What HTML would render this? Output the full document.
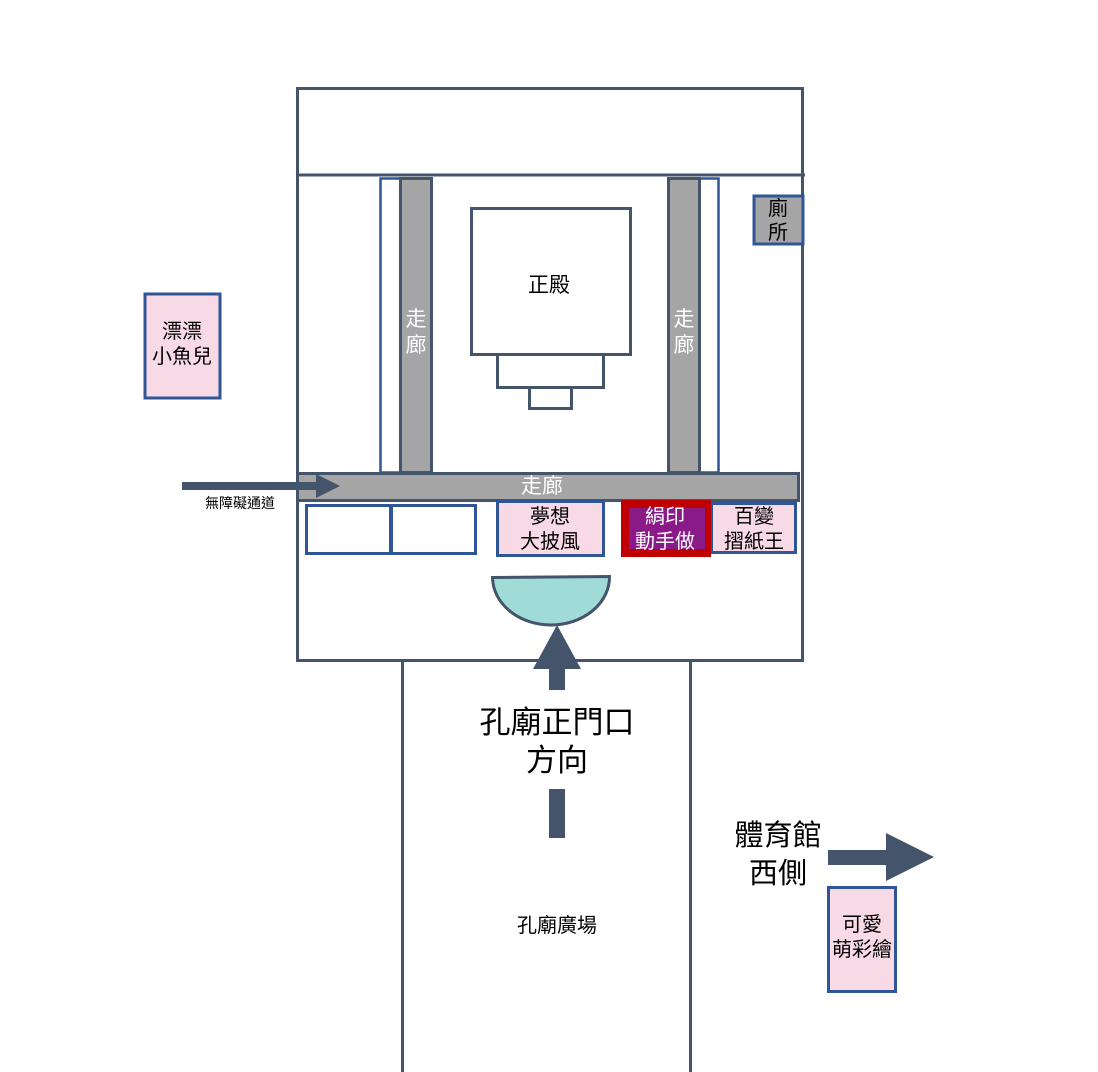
<!DOCTYPE html>
<html><head><meta charset="utf-8"><style>
html,body{margin:0;padding:0;background:#fff;}
svg{display:block;}
text{font-family:"Liberation Sans","Noto Sans CJK TC",sans-serif;}
</style></head><body>
<svg width="1098" height="1072" viewBox="0 0 1098 1072" xmlns="http://www.w3.org/2000/svg">
<g fill="none" stroke="#44546a" stroke-width="3">
<rect x="297.5" y="88.5" width="505" height="572" fill="#fff"/>
<line x1="297" y1="175" x2="805" y2="175"/>
</g>
<rect x="380.5" y="178.5" width="51" height="294" fill="#fff" stroke="#2f5597" stroke-width="2.5"/>
<rect x="400.5" y="178.5" width="31" height="294" fill="#a5a5a5" stroke="#44546a" stroke-width="3"/>
<rect x="668.5" y="178.5" width="50" height="294" fill="#fff" stroke="#2f5597" stroke-width="2.5"/>
<rect x="668.5" y="178.5" width="31" height="294" fill="#a5a5a5" stroke="#44546a" stroke-width="3"/>
<text x="416" y="326" font-size="21" fill="#fff" text-anchor="middle">走</text>
<text x="416" y="352" font-size="21" fill="#fff" text-anchor="middle">廊</text>
<text x="684" y="326" font-size="21" fill="#fff" text-anchor="middle">走</text>
<text x="684" y="352" font-size="21" fill="#fff" text-anchor="middle">廊</text>
<g fill="#fff" stroke="#44546a" stroke-width="3">
<rect x="471.5" y="208.5" width="159" height="146"/>
<rect x="497.5" y="354.5" width="106" height="33"/>
<rect x="529.5" y="387.5" width="42" height="21"/>
</g>
<text x="549" y="292" font-size="21" fill="#000" text-anchor="middle">正殿</text>
<rect x="754" y="196" width="49" height="48" fill="#a5a5a5" stroke="#2f5597" stroke-width="3"/>
<text x="778" y="215" font-size="20" fill="#000" text-anchor="middle">廁</text>
<text x="778" y="239" font-size="20" fill="#000" text-anchor="middle">所</text>
<rect x="297.5" y="473.5" width="501" height="27" fill="#a5a5a5" stroke="#44546a" stroke-width="3"/>
<text x="542" y="493" font-size="21" fill="#fff" text-anchor="middle">走廊</text>
<g stroke="#2f5597" stroke-width="3">
<rect x="306.5" y="505.5" width="84" height="48" fill="#fff"/>
<rect x="391.5" y="505.5" width="84" height="48" fill="#fff"/>
<rect x="497.5" y="501.5" width="106" height="54" fill="#f8dae6"/>
<rect x="711.5" y="503.5" width="84" height="49" fill="#f8dae6"/>
</g>
<rect x="621" y="500" width="90" height="57" fill="#c00000"/>
<rect x="629" y="508" width="76" height="41" fill="#8b1a89"/>
<text x="550" y="523" font-size="20" fill="#000" text-anchor="middle">夢想</text>
<text x="550" y="548" font-size="20" fill="#000" text-anchor="middle">大披風</text>
<text x="665" y="523" font-size="20" fill="#fff" text-anchor="middle">絹印</text>
<text x="665" y="548" font-size="20" fill="#fff" text-anchor="middle">動手做</text>
<text x="754" y="523" font-size="20" fill="#000" text-anchor="middle">百變</text>
<text x="754" y="548" font-size="20" fill="#000" text-anchor="middle">摺紙王</text>
<path d="M492.5 577.5 L609.5 576.5 A58.5 48 0 0 1 492.5 577.5 Z" fill="#a0dbd8" stroke="#44546a" stroke-width="3"/>
<rect x="402.5" y="660.5" width="288" height="420" fill="#fff" stroke="#44546a" stroke-width="3"/>
<polygon points="557,625 581,669 533,669" fill="#44546a"/>
<rect x="549" y="668" width="16" height="22" fill="#44546a"/>
<rect x="549" y="789" width="16" height="49" fill="#44546a"/>
<text x="557" y="733" font-size="31" fill="#000" text-anchor="middle">孔廟正門口</text>
<text x="557" y="771" font-size="31" fill="#000" text-anchor="middle">方向</text>
<text x="557" y="932" font-size="20" fill="#000" text-anchor="middle">孔廟廣場</text>
<rect x="145" y="294" width="75" height="104" fill="#f8dae6" stroke="#2f5597" stroke-width="3"/>
<text x="182" y="338" font-size="20" fill="#000" text-anchor="middle">漂漂</text>
<text x="182" y="363" font-size="20" fill="#000" text-anchor="middle">小魚兒</text>
<rect x="182" y="482" width="136" height="8" fill="#44546a"/>
<polygon points="316,474 340,486 316,498" fill="#44546a"/>
<text x="240" y="508" font-size="14" fill="#000" text-anchor="middle">無障礙通道</text>
<text x="778" y="845" font-size="29" fill="#000" text-anchor="middle">體育館</text>
<text x="778" y="883" font-size="29" fill="#000" text-anchor="middle">西側</text>
<rect x="828" y="850" width="60" height="15" fill="#44546a"/>
<polygon points="886,833 934,857 886,881" fill="#44546a"/>
<rect x="828.5" y="887.5" width="67" height="104" fill="#f8dae6" stroke="#2f5597" stroke-width="3"/>
<text x="862" y="931" font-size="20" fill="#000" text-anchor="middle">可愛</text>
<text x="862" y="956" font-size="20" fill="#000" text-anchor="middle">萌彩繪</text>
</svg>
</body></html>
